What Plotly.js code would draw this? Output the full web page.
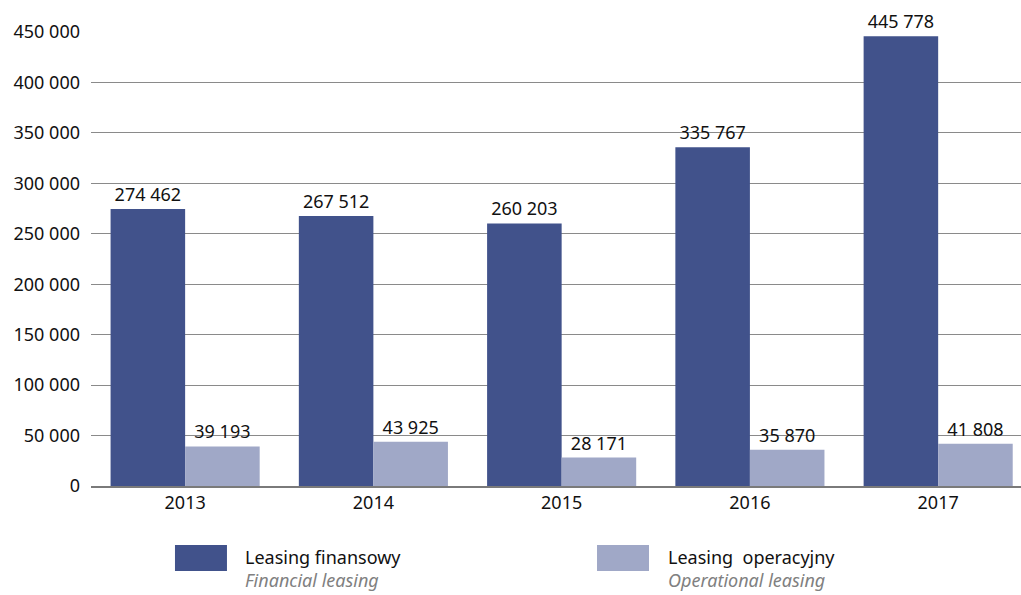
<!DOCTYPE html>
<html><head><meta charset="utf-8">
<script src="https://cdn.plot.ly/plotly-3.0.1.min.js"></script>
<style>html,body{margin:0;padding:0;background:#fff;}</style>
</head><body>
<div id="chart" style="width:1021px;height:595px;"></div>
<script>
const years = ['2013','2014','2015','2016','2017'];
const financial = [274462, 267512, 260203, 335767, 445778];
const operational = [39193, 43925, 28171, 35870, 41808];
const seriesNames = ['Leasing finansowy', 'Leasing  operacyjny'];
const seriesNamesEn = ['Financial leasing', 'Operational leasing'];
const colors = ['#41528B', '#A0A8C7'];
const FONT = 'Noto Sans, Open Sans, sans-serif';

const traces = [financial, operational].map((vals, i) => ({
  type: 'bar', x: years, y: vals, name: seriesNames[i],
  marker: {color: colors[i]},
  texttemplate: '%{y:,}', textposition: 'outside', cliponaxis: false,
  textfont: {family: FONT, size: 18, color: '#111'},
  hoverinfo: 'skip', showlegend: false
}));

const legX = [[0.0903, 0.1462, 0.1634], [0.5441, 0.6000, 0.6183]];
const shapes = legX.map((p, i) => ({
  type: 'rect', xref: 'paper', yref: 'paper', x0: p[0], x1: p[1], y0: -0.1873, y1: -0.130,
  fillcolor: colors[i], line: {width: 0}
}));
const annotations = legX.map((p, i) => ({
  xref: 'paper', yref: 'paper', x: p[2], y: -0.125, xanchor: 'left', yanchor: 'top',
  align: 'left', showarrow: false,
  text: seriesNames[i] + '<br><i><span style="color:#808080">' + seriesNamesEn[i] + '</span></i>',
  font: {family: FONT, size: 18, color: '#111'}
}));

const layout = {
  width: 1021, height: 595,
  margin: {l: 91, r: 0, t: 32, b: 109},
  paper_bgcolor: '#fff', plot_bgcolor: '#fff',
  separators: ', ',
  barmode: 'group', bargap: 0.208, bargroupgap: 0,
  font: {family: FONT, size: 18, color: '#111'},
  xaxis: {type: 'category', range: [-0.5, 4.44], showgrid: false, showline: true,
    linecolor: '#7a7a7a', linewidth: 1.5, ticks: '', tickfont: {family: FONT, size: 18, color: '#111'}},
  yaxis: {range: [0, 450000], dtick: 50000, tickformat: ',d', showgrid: true,
    gridcolor: '#8a8a8a', gridwidth: 1, zeroline: false, showline: false, ticks: '',
    ticklabelstandoff: 10, tickfont: {family: FONT, size: 18, color: '#111'}},
  shapes: shapes, annotations: annotations, showlegend: false
};

Plotly.newPlot('chart', traces, layout, {displayModeBar: false, staticPlot: true});
</script>
</body></html>
